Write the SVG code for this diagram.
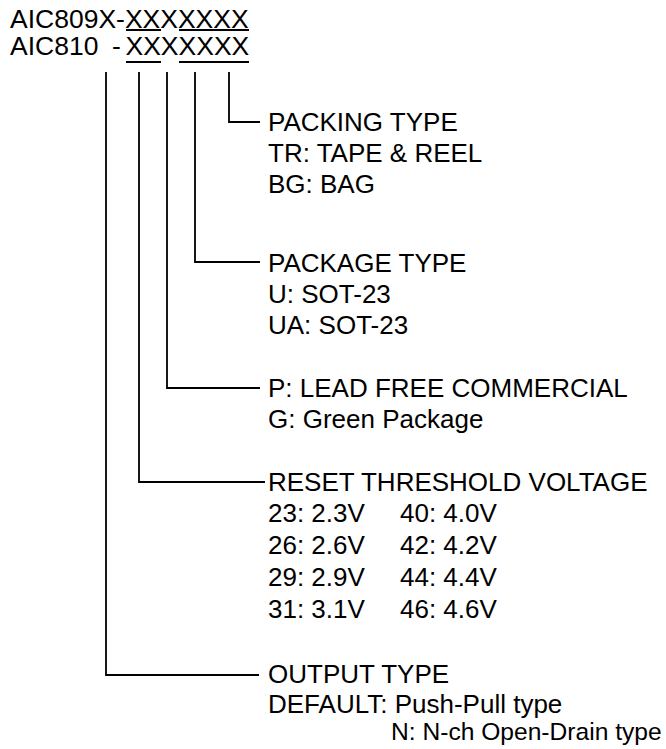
<svg xmlns="http://www.w3.org/2000/svg" width="666" height="749" viewBox="0 0 666 749">
<style>
text{font-family:"Liberation Sans",Arial,sans-serif;font-size:26px;fill:#000}
.t{font-size:26.5px}
.c{fill:none;stroke:#000;stroke-width:1.8}
</style>
<rect width="666" height="749" fill="#fff"/>
<g id="title">
<text class="t" x="10" y="28">AIC809X-XXXXXXX</text>
<text class="t" y="55"><tspan x="10">AIC810</tspan><tspan x="112">-</tspan><tspan x="125.5">XXXXXXX</tspan></text>
<path class="c" d="M126 30H161M179 30H249M126 62H161M179 62H249"/>
</g>
<g id="connectors">
<path class="c" d="M229 72V122H260"/>
<path class="c" d="M195 72V262H260"/>
<path class="c" d="M167 72V388H260"/>
<path class="c" d="M139 72V482H265"/>
<path class="c" d="M106 72V675H259"/>
</g>
<g id="packing">
<text x="268" y="131">PACKING TYPE</text>
<text x="268" y="162">TR: TAPE &amp; REEL</text>
<text x="268" y="193">BG: BAG</text>
</g>
<g id="package">
<text x="268" y="272">PACKAGE TYPE</text>
<text x="268" y="303">U: SOT-23</text>
<text x="268" y="334">UA: SOT-23</text>
</g>
<g id="lead">
<text x="268" y="397">P: LEAD FREE COMMERCIAL</text>
<text x="268" y="428">G: Green Package</text>
</g>
<g id="reset">
<text x="268" y="491">RESET THRESHOLD VOLTAGE</text>
<text x="268" y="522">23: 2.3V</text><text x="400" y="522">40: 4.0V</text>
<text x="268" y="554">26: 2.6V</text><text x="400" y="554">42: 4.2V</text>
<text x="268" y="586">29: 2.9V</text><text x="400" y="586">44: 4.4V</text>
<text x="268" y="618">31: 3.1V</text><text x="400" y="618">46: 4.6V</text>
</g>
<g id="output">
<text x="268" y="683">OUTPUT TYPE</text>
<text x="268" y="713">DEFAULT: Push-Pull type</text>
<text x="391" y="740" style="font-size:24.6px">N: N-ch Open-Drain type</text>
</g>
</svg>
